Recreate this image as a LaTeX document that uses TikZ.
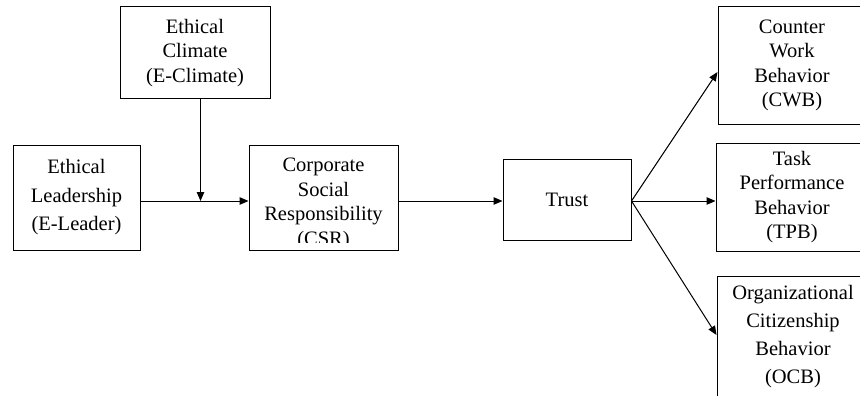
\documentclass[tikz,border=0pt]{standalone}
\usepackage{fontspec}
\setmainfont{Liberation Serif}
\usetikzlibrary{arrows.meta}

\begin{document}
\begin{tikzpicture}[x=1pt, y=-1pt,
    box/.style={draw, line width=1pt, inner sep=0pt, align=center, font=\fontsize{20.5}{24.5}\selectfont},
    arr/.style={line width=1pt, -{Triangle[length=9pt, width=7.5pt]}}]
    \useasboundingbox (0,0) rectangle (860,396);
    \clip (0,0) rectangle (860,396);

    % Antecedents
    \node[box, minimum width=150pt, minimum height=92pt] (eclimate) at (195,53) {Ethical\\Climate\\(E-Climate)};
    \node[box, minimum width=127pt, minimum height=105pt, font=\fontsize{20.5}{28.5}\selectfont] (eleader) at (76.5,197.5) {Ethical\\Leadership\\(E-Leader)};

    % Mediators
    \node[box, minimum width=149pt, minimum height=105pt] (csr) at (323.5,197.5) {};
    \begin{scope}
        \clip (249,145) rectangle (398,242);
        \node[box, draw=none] (csrtext) at ([yshift=-6.5pt]csr.center) {Corporate\\Social\\Responsibility\\(CSR)};
    \end{scope}
    \node[box, minimum width=128pt, minimum height=81pt] (trust) at (567,199.5) {Trust};

    % Outcomes
    \node[box, minimum width=148pt, minimum height=117pt] (cwb) at (792,65.5) {Counter\\Work\\Behavior\\(CWB)};
    \node[box, minimum width=152pt, minimum height=108pt] (tpb) at (792,197) {Task\\Performance\\Behavior\\(TPB)};
    \node[box, minimum width=152pt, minimum height=122pt, font=\fontsize{20.5}{28}\selectfont] (ocb) at (793,337) {Organizational\\Citizenship\\Behavior\\(OCB)};

    % Paths
    \coordinate (join) at (200.5,201);
    \draw[arr] ([yshift=-3.5pt]eleader.east) -- ([yshift=-3.5pt]csr.west);
    \draw[arr] ([xshift=5.5pt]eclimate.south) -- (join);
    \draw[arr] ([yshift=-3.5pt]csr.east) -- ([yshift=-1.5pt]trust.west);
    \draw[arr] ([yshift=-1.5pt]trust.east) -- ([yshift=-6.5pt]cwb.west);
    \draw[arr] ([yshift=-1.5pt]trust.east) -- ([yshift=-4pt]tpb.west);
    \draw[arr] ([yshift=-1.5pt]trust.east) -- ([yshift=2pt]ocb.west);
\end{tikzpicture}
\end{document}
